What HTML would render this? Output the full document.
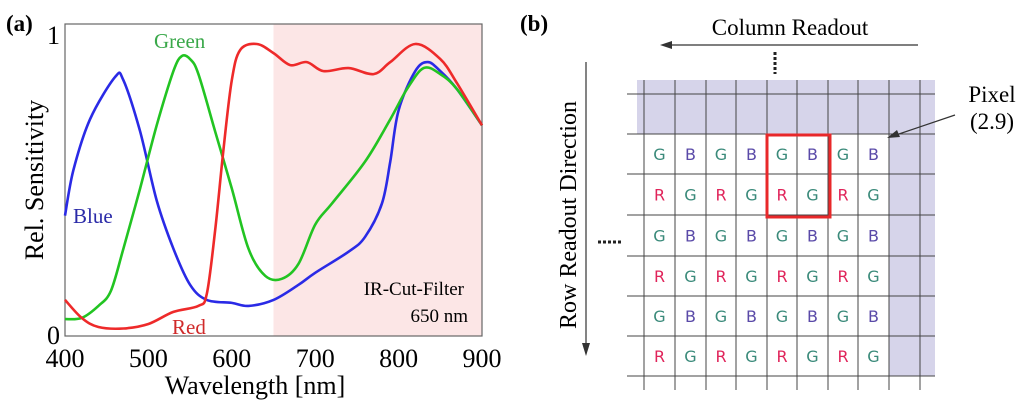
<!DOCTYPE html>
<html><head><meta charset="utf-8"><style>
body{margin:0;background:#fff;width:1024px;height:403px;overflow:hidden}
svg{display:block}
text{font-family:"Liberation Serif",serif}
.s{font-family:"DejaVu Sans","Liberation Sans",sans-serif;font-size:16px}
</style></head><body>
<svg id="fig" width="1024" height="403" xmlns="http://www.w3.org/2000/svg">
<g id="a"></g>
<g id="b"></g>
</svg>
<script>
const blueWl=[400,410,430,460,470,490,510,530,550,570,600,620,650,680,700,740,760,780,790,800,820,835,850,870,900];
const blueV=[0.40,0.55,0.72,0.86,0.85,0.68,0.45,0.29,0.17,0.12,0.11,0.10,0.12,0.17,0.21,0.28,0.33,0.44,0.58,0.75,0.88,0.91,0.88,0.82,0.70];
const greenWl=[400,420,440,455,470,490,510,530,540,550,560,580,600,620,640,660,680,700,720,760,790,810,830,850,870,900];
const greenV=[0.056,0.06,0.10,0.15,0.29,0.49,0.70,0.88,0.93,0.92,0.87,0.68,0.49,0.29,0.20,0.19,0.24,0.37,0.44,0.58,0.72,0.82,0.89,0.87,0.82,0.70];
const redWl=[400,420,440,470,500,530,560,570,580,590,600,610,630,650,670,690,710,740,770,790,820,850,870,900];
const redV=[0.12,0.06,0.03,0.025,0.04,0.08,0.10,0.14,0.35,0.62,0.85,0.95,0.97,0.94,0.90,0.91,0.88,0.89,0.87,0.91,0.97,0.92,0.84,0.70];
const xTicks=[400,500,600,700,800,900];
const yTicks=[0,1];
const NS='http://www.w3.org/2000/svg';
function mk(p,t,at,txt){const e=document.createElementNS(NS,t);for(const k in at)e.setAttribute(k,at[k]);if(txt!==undefined)e.textContent=txt;p.appendChild(e);return e;}
const X=w=>65+(w-400)*(417/500);
const Y=v=>336-301*v;
const A=document.getElementById('a');
let r=mk(A,'rect',{x:X(650),y:24,width:482-X(650),height:312,fill:'#fce6e6'});


r=mk(A,'rect',{x:65,y:24,width:417,height:312,fill:'none',stroke:'#666','stroke-width':1.2});


function line(xs,vs,c,n){const P=xs.map((w,i)=>[X(w),Y(vs[i])]);let d='M'+P[0][0].toFixed(1)+' '+P[0][1].toFixed(1);
for(let i=0;i<P.length-1;i++){const p0=P[Math.max(0,i-1)],p1=P[i],p2=P[i+1],p3=P[Math.min(P.length-1,i+2)];
const c1=[p1[0]+(p2[0]-p0[0])/6,p1[1]+(p2[1]-p0[1])/6],c2=[p2[0]-(p3[0]-p1[0])/6,p2[1]-(p3[1]-p1[1])/6];
d+='C'+c1.map(v=>v.toFixed(1)).join(' ')+' '+c2.map(v=>v.toFixed(1)).join(' ')+' '+p2[0].toFixed(1)+' '+p2[1].toFixed(1);}
const p=mk(A,'path',{d:d,fill:'none',stroke:c,'stroke-width':2.6,'stroke-linejoin':'round'});

}
line(blueWl,blueV,'#2a2ae6','blue-curve');
line(greenWl,greenV,'#22c422','green-curve');
line(redWl,redV,'#ee2a2a','red-curve');
xTicks.forEach(t=>{const e=mk(A,'text',{x:X(t),y:367,'font-size':26,'text-anchor':'middle'},t);

});
yTicks.forEach(t=>{const e=mk(A,'text',{x:60,y:Y(t)+(t?9:8),'font-size':26,'text-anchor':'end'},t);

});
function T(p,x,y,s,txt,n,ex){const e=mk(p,'text',Object.assign({x:x,y:y,'font-size':s},ex||{}),txt);

return e;}
T(A,6,31,23,'(a)','panel-a-label',{'font-weight':'bold'});
T(A,255,394,26,'Wavelength [nm]','x-axis-title',{'text-anchor':'middle'});
T(A,43,180,26,'Rel. Sensitivity','y-axis-title',{'text-anchor':'middle',transform:'rotate(-90 43 180)'});
T(A,73,223,21,'Blue','blue-label',{fill:'#2a2aa8'});
T(A,154,48,21,'Green','green-label',{fill:'#3aa84a'});
T(A,172,334,21,'Red','red-label',{fill:'#d02a2a'});
T(A,464,295,19,'IR-Cut-Filter','ir-cut-label',{'text-anchor':'end'});
T(A,468,322,19,'650 nm','ir-cut-wavelength',{'text-anchor':'end'});
const B=document.getElementById('b');
const vx=[644,675,706,736,767,797,828,858,889,920];
const hy=[94,134,174,215,256,296,336,376];
mk(B,'rect',{x:637,y:80,width:298,height:54,fill:'#d6d4ea'});
mk(B,'rect',{x:889,y:80,width:46,height:296,fill:'#d6d4ea'});
vx.forEach(x=>mk(B,'line',{x1:x,y1:80,x2:x,y2:390,stroke:'#444','stroke-width':1}));
hy.forEach(y=>mk(B,'line',{x1:627,y1:y,x2:935,y2:y,stroke:'#444','stroke-width':1}));
const cols={R:'#e0245a',G:'#3a8a7a',B:'#5a4aa8'};
for(let r=0;r<6;r++)for(let c=0;c<8;c++){const L=r%2==0?(c%2==0?'G':'B'):(c%2==0?'R':'G');
const e=mk(B,'text',{x:(vx[c]+vx[c+1])/2,y:(hy[r+1]+hy[r+2])/2+6,'text-anchor':'middle',fill:cols[L],class:'s'},L);

}
r=mk(B,'rect',{x:767,y:135,width:63,height:82,fill:'none',stroke:'#e8282a','stroke-width':3});


T(B,520,31,23,'(b)','panel-b-label',{'font-weight':'bold'});
T(B,790,35,23,'Column Readout','column-readout-label',{'text-anchor':'middle'});
mk(B,'line',{x1:918,y1:45,x2:668,y2:45,stroke:'#333','stroke-width':1.2});
mk(B,'path',{d:'M660 45 L672 41 L672 49 Z',fill:'#333'});
mk(B,'line',{x1:775,y1:52,x2:775,y2:74,stroke:'#222','stroke-width':3,'stroke-dasharray':'3 2'});
T(B,576,215,24,'Row Readout Direction','row-readout-label',{'text-anchor':'middle',transform:'rotate(-90 576 215)'});
mk(B,'line',{x1:586,y1:62,x2:586,y2:348,stroke:'#333','stroke-width':1.2});
mk(B,'path',{d:'M586 356 L582 343 L590 343 Z',fill:'#333'});
mk(B,'line',{x1:598,y1:242,x2:622,y2:242,stroke:'#222','stroke-width':3,'stroke-dasharray':'3 2'});
T(B,992,102,23,'Pixel','pixel-label',{'text-anchor':'middle'});
T(B,992,129,23,'(2.9)','pixel-coord-label',{'text-anchor':'middle'});
mk(B,'line',{x1:955,y1:115,x2:893,y2:136,stroke:'#333','stroke-width':1.2});
mk(B,'path',{d:'M887 138 L897 130 L900 137 Z',fill:'#333'});
</script>
</body></html>
